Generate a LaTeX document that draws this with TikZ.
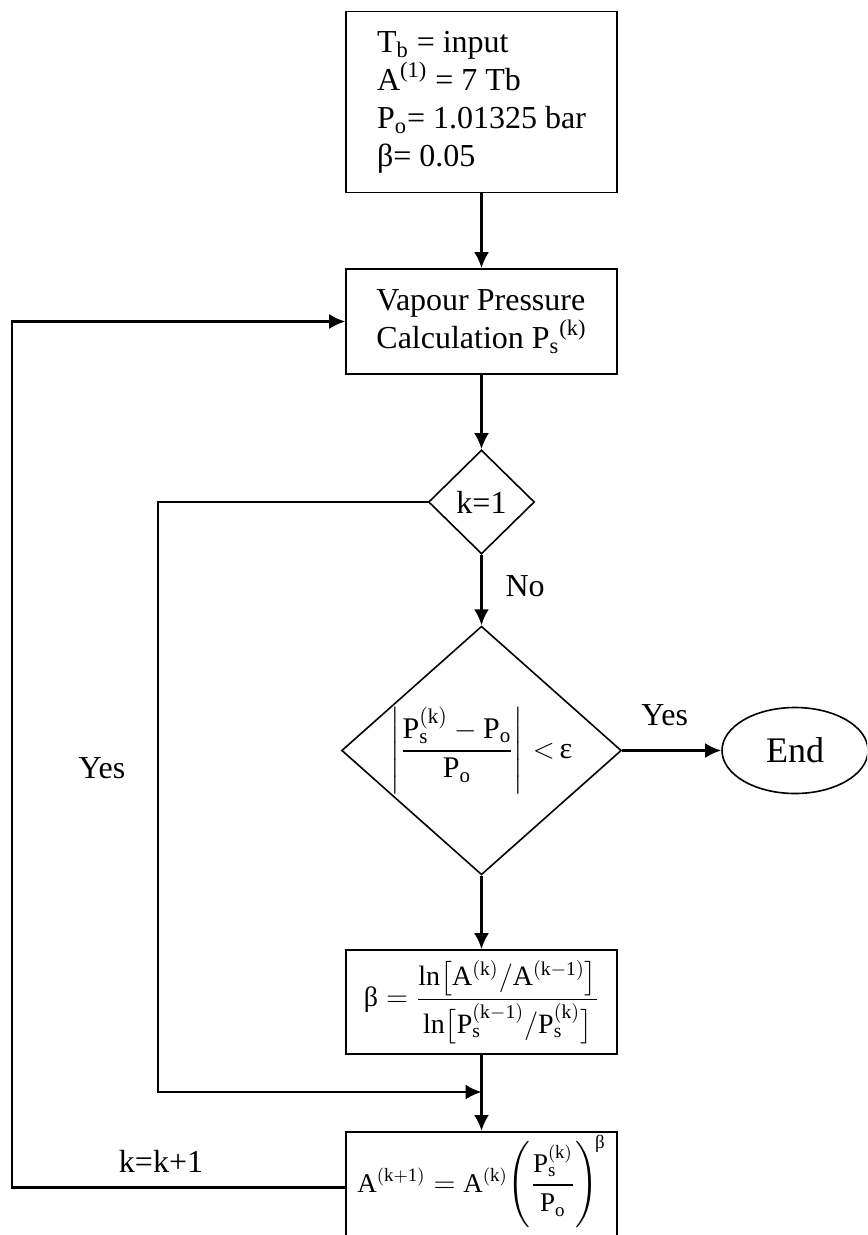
\documentclass[tikz,border=0pt]{standalone}
\usepackage{amsmath}
\usepackage{fontspec}
\setmainfont{Liberation Serif}
\usetikzlibrary{shapes.geometric,arrows.meta}

\newcommand{\eqsize}{\fontsize{14}{17}\selectfont}

\begin{document}
\begin{tikzpicture}[x=0.5pt,y=-0.5pt,font=\fontsize{16}{19}\selectfont,
	>={Latex[length=8pt,width=7.5pt]}]
	\useasboundingbox (0,0) rectangle (867,1235);
	\clip (0,0) rectangle (867,1235);

	\begin{scope}[every node/.style={draw,line width=0.8pt,inner sep=0pt,minimum width=135.5pt}]
	\node[minimum height=90.5pt,align=left] (init) at (481.5,102)
		{T\textsubscript{b} = input\\A\textsuperscript{(1)} = 7 Tb\\P\textsubscript{o}= 1.01325 bar\\β= 0.05};
	\node[minimum height=52.5pt,align=left] (vap) at (481.5,321.5)
		{Vapour Pressure\\Calculation P\textsubscript{s}\textsuperscript{(k)}};
	\node[diamond,aspect=1,minimum width=53pt,minimum height=52pt] (k1) at (481.5,502) {k=1};
	\node[diamond,aspect=1.125,minimum width=135.5pt,minimum height=120.5pt,font=\fontsize{15}{18}\selectfont] (conv) at (481.5,750.5)
		{$\left|\dfrac{\mathrm{P_s^{(k)}}-\mathrm{P_o}}{\mathrm{P_o}}\right|\,{<}\,\text{ε}$};
	\node[ellipse,minimum width=73pt,minimum height=43pt,font=\fontsize{18}{21}\selectfont] (stop) at (795,750.5) {End};
	\node[minimum height=52pt,font=\eqsize] (beta) at (481.5,1002)
		{$\text{β}=\dfrac{\mathrm{ln}\bigl[\mathrm{A^{(k)}}/\mathrm{A^{(k-1)}}\bigr]}{\mathrm{ln}\bigl[\mathrm{P_s^{(k-1)}}/\mathrm{P_s^{(k)}}\bigr]}$};
	\node[anchor=north,inner ysep=1.5pt,text depth=24pt,font=\fontsize{13.5}{16}\selectfont] (upd) at (481.5,1131)
		{$\mathrm{A^{(k+1)}}=\mathrm{A^{(k)}}\!\left(\dfrac{\mathrm{P_s^{(k)}}}{\mathrm{P_o}}\right)^{\!\text{β}}$};
	\end{scope}

	% main line
	\begin{scope}[line width=1.4pt]
	\draw[->] (init) -- (vap);
	\draw[->] (vap) -- (k1);
	\draw[->] (k1) -- node[right=8pt,pos=0.45] (no) {No} (conv);
	\draw[->] (conv) -- node[above=8.5pt,pos=0.43] (yes) {Yes} (stop);
	\draw[->] (conv) -- (beta);
	\draw[->] (beta) -- (upd);
	\end{scope}

	% loops back
	\coordinate (yesdown) at (158,1092);
	\coordinate (merge) at (481.5,1092);
	\coordinate (rail) at (12,0);
	\draw[->,line width=1.1pt] (k1.west) -| (yesdown) -- (merge);
	\draw[->,line width=1.1pt] (upd.west) -| (rail |- vap.west) -- (vap.west);

	\node (yes1) at (102,768) {Yes};
	\node (next) at (161,1161) {k=k+1};
\end{tikzpicture}
\end{document}
